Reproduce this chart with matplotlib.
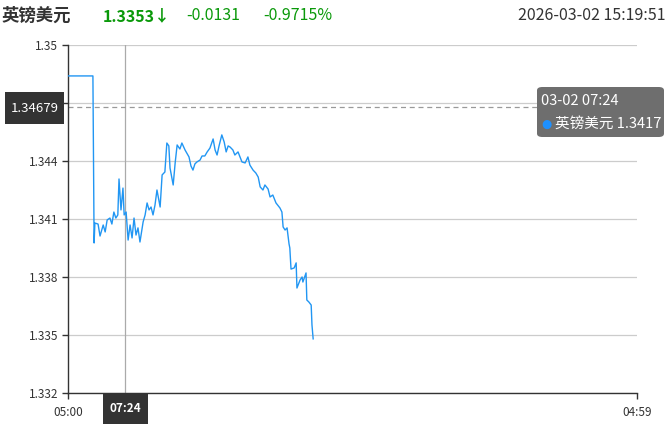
import matplotlib
matplotlib.use('Agg')
import matplotlib.pyplot as plt
from matplotlib.patches import FancyBboxPatch, Rectangle

plt.rcParams['font.family'] = ['Noto Sans CJK SC', 'DejaVu Sans']

# 行情数据：距 05:00 的分钟数, 价格
minutes = [0, 63, 66, 68, 76, 81, 89, 94, 99, 106, 111, 116, 121, 126, 129, 134, 139, 142,
           147, 152, 157, 162, 167, 172, 177, 182, 190, 195, 200, 205, 210, 215, 220, 225,
           233, 238, 245, 250, 255, 258, 266, 271, 276, 283, 288, 296, 306, 311, 316, 321,
           326, 334, 339, 346, 352, 359, 367, 372, 377, 382, 389, 395, 400, 405, 410, 417,
           422, 430, 440, 448, 455, 460, 468, 475, 481, 486, 493, 498, 506, 511, 518, 526,
           536, 541, 544, 549, 554, 559, 561, 564, 572, 577, 579, 587, 592, 594, 602, 604,
           609, 615, 617, 620]
prices = [1.3484, 1.3484, 1.33976, 1.34079, 1.34074, 1.34012, 1.34069, 1.34033, 1.34095,
          1.34105, 1.34074, 1.34136, 1.34105, 1.34121, 1.34307, 1.34147, 1.3426, 1.34121,
          1.34136, 1.33991, 1.34069, 1.34002, 1.34105, 1.34017, 1.34054, 1.33981, 1.34085,
          1.34121, 1.34183, 1.34147, 1.34162, 1.34121, 1.34172, 1.3425, 1.34162, 1.34328,
          1.34343, 1.34493, 1.34478, 1.34364, 1.34276, 1.3439, 1.34483, 1.34462, 1.34493,
          1.34457, 1.34421, 1.34374, 1.34353, 1.34385, 1.34395, 1.34405, 1.34426, 1.34426,
          1.34447, 1.34467, 1.34514, 1.34457, 1.34431, 1.34478, 1.34535, 1.34498, 1.34447,
          1.34478, 1.34472, 1.34457, 1.34431, 1.34447, 1.34395, 1.3439, 1.34421, 1.34379,
          1.34353, 1.34338, 1.34317, 1.34266, 1.3425, 1.34276, 1.34255, 1.34214, 1.34224,
          1.34183, 1.34157, 1.34136, 1.34059, 1.34043, 1.34054, 1.33971, 1.3395, 1.33841,
          1.33847, 1.33873, 1.33743, 1.33785, 1.338, 1.33774, 1.33821, 1.33681, 1.33671,
          1.33655, 1.33552, 1.3348]

y_ticks = [1.332, 1.335, 1.338, 1.341, 1.344, 1.347, 1.35]
y_labels = ['1.332', '1.335', '1.338', '1.341', '1.344', '', '1.35']  # 1.347 被光标标签遮住
x_ticks = [0, 1439]
x_labels = ['05:00', '04:59']

cursor_min = 144          # 07:24
cursor_label = '07:24'
cursor_price = 1.34679
cursor_price_label = '1.34679'
tip_title = '03-02 07:24'
tip_text = '英镑美元 1.3417'

name = '英镑美元'
last = '1.3353↓'
change = '-0.0131'
change_pct = '-0.9715%'
timestamp = '2026-03-02 15:19:51'

GREEN = '#0a990a'
BLUE = '#2196f3'
W, H = 667, 424

fig = plt.figure(figsize=(6.67, 4.24), dpi=100)
ax = fig.add_axes([68 / W, 1 - 393 / H, 569 / W, 348 / H])

ax.plot(minutes, prices, color=BLUE, linewidth=1.0, zorder=3)

ax.set_xlim(0, 1439)
ax.set_ylim(1.332, 1.35)
ax.set_yticks(y_ticks)
ax.set_yticklabels(y_labels)
ax.set_xticks(x_ticks)
ax.set_xticklabels(x_labels)
ax.tick_params(axis='y', length=4, width=1, color='#333333', labelsize=8.5,
               labelcolor='#333333', pad=3)
ax.tick_params(axis='x', length=4, width=1, color='#333333', labelsize=8.5,
               labelcolor='#333333', pad=5)

for s in ['top', 'right']:
    ax.spines[s].set_visible(False)
for s in ['left', 'bottom']:
    ax.spines[s].set_color('#333333')
    ax.spines[s].set_linewidth(1)

ax.grid(axis='y', color='#cccccc', linewidth=0.9)
ax.set_axisbelow(True)

# 十字光标
ax.axvline(cursor_min, color='#aaaaaa', linewidth=0.9, zorder=2)
ax.axhline(cursor_price, color='#999999', linewidth=0.9, linestyle=(0, (4, 3)), zorder=2)


def px_box(x0, y0, x1, y1, color):
    fig.patches.append(Rectangle((x0 / W, 1 - y1 / H), (x1 - x0) / W, (y1 - y0) / H,
                                 transform=fig.transFigure, fc=color, ec='none', zorder=10))


# 价格标签
px_box(5, 92, 64, 124, '#333333')
fig.text(34.5 / W, 1 - 108 / H, cursor_price_label, color='white', fontsize=9.5,
         ha='center', va='center', zorder=11)
# 时间标签
px_box(103, 393, 148, 424, '#333333')
fig.text(125.5 / W, 1 - 408 / H, cursor_label, color='white', fontsize=8.5,
         fontweight='bold', ha='center', va='center', zorder=11)

# 提示框
tip = FancyBboxPatch((537 / W, 1 - 137 / H), 127 / W, 50 / H,
                     boxstyle='round,pad=0,rounding_size=0.008', transform=fig.transFigure,
                     fc='#6e6e6e', ec='none', zorder=20)
fig.patches.append(tip)
fig.text(541 / W, 1 - 101 / H, tip_title, color='white', fontsize=10.5, va='center',
         zorder=21)
fig.text(546 / W, 1 - 124 / H, '●', color='#1e90ff', fontsize=8.5, ha='center',
         va='center', family=['DejaVu Sans'], zorder=21)
fig.text(555 / W, 1 - 124 / H, tip_text, color='white', fontsize=10.5, va='center',
         zorder=21)

# 标题行
fig.text(2 / W, 1 - 16 / H, name, color='#333333', fontsize=12.5, fontweight='bold',
         va='center')
fig.text(103 / W, 1 - 16 / H, last, color=GREEN, fontsize=11.5, fontweight='bold',
         va='center')
fig.text(186 / W, 1 - 16 / H, change, color=GREEN, fontsize=11.5, va='center')
fig.text(263 / W, 1 - 16 / H, change_pct, color=GREEN, fontsize=11.5, va='center')
fig.text(665 / W, 1 - 16 / H, timestamp, color='#333333', fontsize=11.5, va='center',
         ha='right')

fig.savefig('out.png', dpi=100, facecolor='white')
